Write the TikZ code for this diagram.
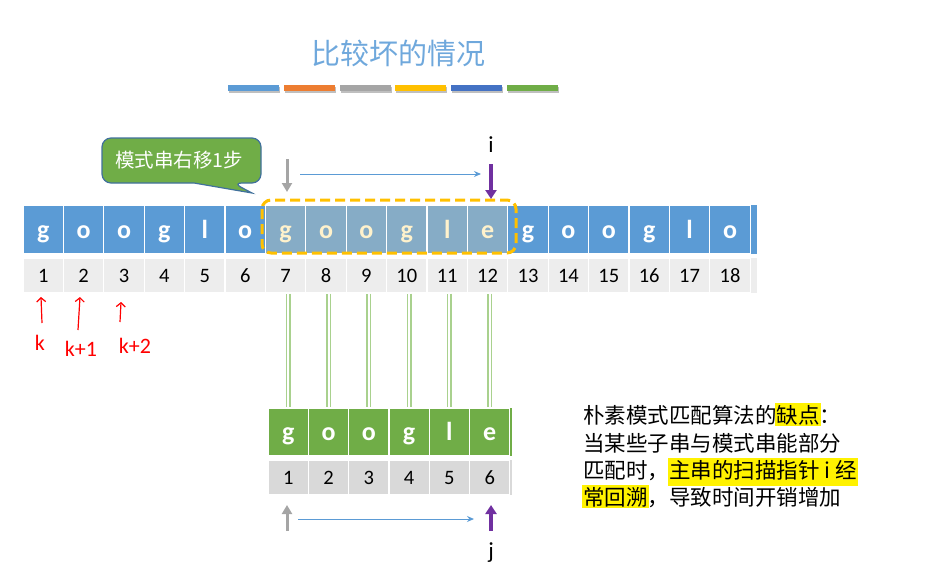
\documentclass[tikz,border=0pt]{standalone}
\usepackage{fontspec}
\setmainfont{Carlito}
\newfontfamily\cjk{Noto Sans CJK SC}
\usetikzlibrary{arrows.meta}
\definecolor{cblue}{HTML}{5B9BD5}
\definecolor{corange}{HTML}{ED7D31}
\definecolor{cgray}{HTML}{A5A5A5}
\definecolor{cgold}{HTML}{FFC000}
\definecolor{cdblue}{HTML}{4472C4}
\definecolor{cgreen}{HTML}{70AD47}
\definecolor{chl}{HTML}{86ACC6}
\definecolor{ccream}{HTML}{FFF2CC}
\definecolor{crow}{HTML}{EDEDED}
\definecolor{crowp}{HTML}{D9D9D9}
\definecolor{cpurple}{HTML}{7030A0}
\definecolor{clgreen}{HTML}{A9D18E}
\definecolor{cborder}{HTML}{41719C}
\definecolor{ctitle}{HTML}{6FA8DC}
\newcommand\hlyel[1]{\kern-1.5pt{\setlength\fboxsep{1.5pt}\colorbox{yellow}{#1}}\kern-1.5pt}
\begin{document}
\begin{tikzpicture}[x=1pt,y=-1pt,
  mcell/.style={rectangle, fill=cblue, draw=white, line width=1.2pt, minimum width=40.4pt, minimum height=49pt, inner sep=0pt, text=white, font=\fontsize{26}{26}\selectfont\bfseries, text height=17pt, text depth=0pt},
  hcell/.style={mcell, fill=chl, text=ccream},
  ncell/.style={rectangle, fill=crow, draw=white, line width=1.2pt, minimum width=40.4pt, minimum height=35pt, inner sep=0pt, text=black, font=\fontsize{20.5}{20.5}\selectfont, text height=13pt, text depth=0pt},
  pcell/.style={mcell, fill=cgreen, minimum width=40.3pt, minimum height=48pt},
  qcell/.style={ncell, fill=crowp, minimum width=40.3pt},
  bar/.style={minimum width=51pt, minimum height=6pt, inner sep=0pt},
  grayarrow/.style={draw=cgray, line width=3pt, -{Triangle[length=9pt,width=10pt]}},
  purplearrow/.style={draw=cpurple, line width=3.5pt, -{Triangle[length=9pt,width=11pt]}},
  bluearrow/.style={draw=cblue, line width=1pt, -{Stealth[length=7pt,width=6pt]}},
  redhand/.style={draw=red, line width=1.2pt, -{Straight Barb[length=4pt,width=9pt]}},
  redtext/.style={text=red, font=\fontsize{22}{22}\selectfont, inner sep=0pt},
  link/.style={draw=clgreen, double=white, line width=1.5pt, double distance=2pt},
  ptr/.style={font=\fontsize{23}{23}\selectfont, inner sep=0pt},
  body/.style={anchor=base west, inner sep=0pt, font=\cjk\fontsize{21.5}{21.5}\selectfont}
]
\useasboundingbox (0,0) rectangle (934,586);

% title
\node[text=ctitle, font=\cjk\fontsize{29}{29}\selectfont] (title) at (398,53) {比较坏的情况};
\foreach \i/\c in {0/cblue,1/corange,2/cgray,3/cgold,4/cdblue,5/cgreen}{
  \fill[black!25] ({229+55.8*\i},87) rectangle ({280+55.8*\i},93);
  \node[bar, fill=\c] (bar\i) at ({253.5+55.8*\i},88) {};
}

% main string
\foreach \k/\c in {1/g,2/o,3/o,4/g,5/l,6/o,13/g,14/o,15/o,16/g,17/l,18/o}{
  \node[mcell] (m\k) at ({43.2+40.4*(\k-1)},229.5) {\c};
}
\foreach \k/\c in {7/g,8/o,9/o,10/g,11/l,12/e}{
  \node[hcell] (m\k) at ({43.2+40.4*(\k-1)},229.5) {\c};
}
\foreach \k in {1,...,18}{
  \node[ncell] (n\k) at ({43.2+40.4*(\k-1)},275.5) {\k};
}
\fill[cblue] (750.6,205) rectangle (757,254);
\fill[crow] (750.6,258) rectangle (757,293);

% dashed window
\draw[cgold, line width=3pt, dash pattern=on 10pt off 5pt, rounded corners=9pt] (262,200) rectangle (516,253);

% callout
\draw[fill=cgreen, draw=cborder, line width=1.2pt] (102,160) [rounded corners=9pt] -- (102,138) -- (261,138) -- (261,183) -- (233,183) [sharp corners] -- (252,193) -- (194,183) [rounded corners=9pt] -- (102,183) -- cycle;
\node[text=white, font=\cjk\fontsize{19.5}{19.5}\selectfont, inner sep=0pt] (callout) at (179,160) {模式串右移1步};

% top pointers
\coordinate (gtop) at (287,159);
\coordinate (gbot) at (287,192);
\coordinate (ptop) at (491,164);
\coordinate (pbot) at (491,199);
\coordinate (btl) at (300,174);
\coordinate (btr) at (481,174);
\draw[grayarrow] (gtop) -- (gbot);
\draw[purplearrow] (ptop) -- (pbot);
\draw[bluearrow] (btl) -- (btr);
\node[ptr] (ilab) at (491,145) {i};

% pattern
\foreach \k/\c in {1/g,2/o,3/o,4/g,5/l,6/e}{
  \node[pcell] (p\k) at ({288.2+40.3*(\k-1)},432) {\c};
  \node[qcell] (q\k) at ({288.2+40.3*(\k-1)},477.5) {\k};
}
\fill[cgreen] (509.7,408) rectangle (512,456);
\fill[crowp] (509.7,460) rectangle (512,495);

% links
\foreach \k [evaluate=\k as \m using int(\k+6)] in {1,...,6}{
  \draw[link] (p\k.north |- n\m.south) -- (p\k.north);
}

% bottom pointers
\coordinate (bgb) at (287,531);
\coordinate (bgt) at (287,505);
\coordinate (bpb) at (491,531);
\coordinate (bpt) at (491,505);
\coordinate (bbl) at (298,519);
\coordinate (bbr) at (474,519);
\draw[grayarrow] (bgb) -- (bgt);
\draw[purplearrow] (bpb) -- (bpt);
\draw[bluearrow] (bbl) -- (bbr);
\node[ptr] (jlab) at (491,553) {j};

% red handwriting
\coordinate (r1b) at (42,323);
\coordinate (r1t) at (41,297);
\coordinate (r2b) at (78,330);
\coordinate (r2t) at (80,297);
\coordinate (r3b) at (120,322);
\coordinate (r3t) at (121,302);
\draw[redhand] (r1b) -- (r1t);
\draw[redhand] (r2b) -- (r2t);
\draw[redhand] (r3b) -- (r3t);
\node[redtext] (k0) at (40,343) {k};
\node[redtext] (k1) at (81,349) {k+1};
\node[redtext] (k2) at (135,346) {k+2};

% explanation
\node[body] (t1) at (583,423) {朴素模式匹配算法的\hlyel{缺点}：};
\node[body] (t2) at (583,451) {当某些子串与模式串能部分};
\node[body] (t3) at (583,478) {匹配时，\hlyel{\strut 主串的扫描指针 i 经}};
\node[body] (t4) at (583,505) {\hlyel{常回溯}，导致时间开销增加};
\end{tikzpicture}
\end{document}
